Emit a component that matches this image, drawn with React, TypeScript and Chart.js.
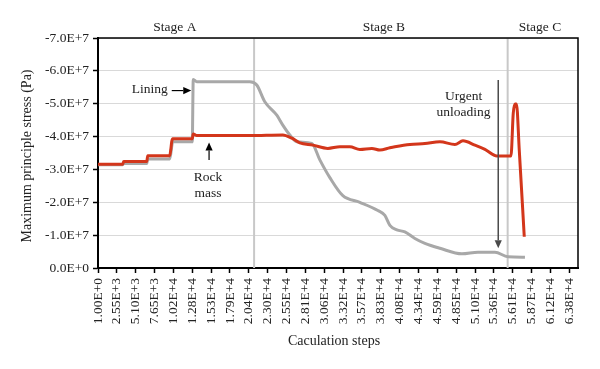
import React, { useEffect, useRef } from 'react';
import { Chart, registerables } from 'chart.js';

Chart.register(...registerables);

// ---- Data (stress in units of 1E+7 Pa, compressive negative) ----
const rockSteps = [1, 3344, 3480, 6593, 6728, 9707, 9842, 9977, 10112, 12751, 12886, 13360, 20533, 24999, 26218, 27301, 29061, 31091, 32716, 34069, 35423, 37047, 38130, 39484, 40160, 42191, 44221, 46251, 48282, 49365, 50989, 52342, 53967, 55455, 55862, 56173, 56403, 56606, 56985, 57662];
const rockStress = [-3.16, -3.16, -3.24, -3.24, -3.42, -3.42, -3.6, -3.85, -3.93, -3.93, -4.08, -4.03, -4.03, -4.05, -3.95, -3.81, -3.74, -3.64, -3.69, -3.69, -3.61, -3.64, -3.59, -3.66, -3.69, -3.76, -3.79, -3.84, -3.76, -3.87, -3.74, -3.61, -3.41, -3.41, -3.41, -4.71, -4.99, -4.99, -3.59, -0.95];

const liningSteps = [1, 3344, 3480, 6593, 6728, 9707, 10112, 12751, 12886, 13360, 20533, 21480, 22563, 24187, 24999, 25947, 26894, 28925, 30008, 31362, 33122, 35423, 37859, 38807, 39484, 40431, 41514, 42868, 44221, 46251, 49229, 51395, 53696, 55455, 57756];
const liningStress = [-3.14, -3.14, -3.18, -3.18, -3.32, -3.32, -3.84, -3.84, -5.74, -5.67, -5.67, -5.57, -5.06, -4.65, -4.35, -4.05, -3.84, -3.79, -3.29, -2.75, -2.2, -2.0, -1.75, -1.6, -1.3, -1.16, -1.1, -0.9, -0.75, -0.6, -0.43, -0.48, -0.48, -0.34, -0.33];

const xTickValues = [1, 2551, 5101, 7651, 10201, 12751, 15301, 17851, 20401, 22951, 25501, 28051, 30601, 33151, 35701, 38251, 40801, 43351, 45901, 48451, 51001, 53551, 56101, 58651, 61201, 63751];
const xTickLabels = ['1.00E+0', '2.55E+3', '5.10E+3', '7.65E+3', '1.02E+4', '1.28E+4', '1.53E+4', '1.79E+4', '2.04E+4', '2.30E+4', '2.55E+4', '2.81E+4', '3.06E+4', '3.32E+4', '3.57E+4', '3.83E+4', '4.08E+4', '4.34E+4', '4.59E+4', '4.85E+4', '5.10E+4', '5.36E+4', '5.61E+4', '5.87E+4', '6.12E+4', '6.38E+4'];
const yTickValues = [-7e7, -6e7, -5e7, -4e7, -3e7, -2e7, -1e7, 0];
const yTickLabels = ['-7.0E+7', '-6.0E+7', '-5.0E+7', '-4.0E+7', '-3.0E+7', '-2.0E+7', '-1.0E+7', '0.0E+0'];

const xMin = 1;
const xMax = 64930;

// stage boundaries (steps)
const stageBoundaries = [21116, 55414];
const stageLabels = ['Stage A', 'Stage B', 'Stage C'];
const stageLabelSteps = [10395, 38670, 59784];
const stageLabelStress = -7.33;

// annotations (step, stress in 1E+7)
const liningText = { text: 'Lining', x: 9435, y: -5.42 };
const liningArrow = { x1: 9976, y1: -5.4, x2: 12616, y2: -5.4 };
const rockText = [{ text: 'Rock', x: 14880, y: -2.77 }, { text: 'mass', x: 14880, y: -2.28 }];
const rockArrow = { x1: 15025, y1: -3.29, x2: 15025, y2: -3.82 };
const urgentText = [{ text: 'Urgent', x: 49450, y: -5.23 }, { text: 'unloading', x: 49450, y: -4.73 }];
const urgentArrow = { x1: 54141, y1: -5.72, x2: 54141, y2: -0.6 };

const FONT = '"Liberation Serif", "Times New Roman", serif';

function drawArrow(ctx: CanvasRenderingContext2D, x1: number, y1: number, x2: number, y2: number, color: string, w: number) {
  const ang = Math.atan2(y2 - y1, x2 - x1);
  const hl = 8, hw = 3.6;
  ctx.save();
  ctx.strokeStyle = color;
  ctx.fillStyle = color;
  ctx.lineWidth = w;
  ctx.beginPath();
  ctx.moveTo(x1, y1);
  ctx.lineTo(x2 - hl * Math.cos(ang), y2 - hl * Math.sin(ang));
  ctx.stroke();
  ctx.beginPath();
  ctx.moveTo(x2, y2);
  ctx.lineTo(x2 - hl * Math.cos(ang) + hw * Math.sin(ang), y2 - hl * Math.sin(ang) - hw * Math.cos(ang));
  ctx.lineTo(x2 - hl * Math.cos(ang) - hw * Math.sin(ang), y2 - hl * Math.sin(ang) + hw * Math.cos(ang));
  ctx.closePath();
  ctx.fill();
  ctx.restore();
}

const annotPlugin = {
  id: 'annot',
  beforeDatasetsDraw(chart: any) {
    const { ctx, chartArea, scales } = chart;
    const xs = scales.x;
    ctx.save();
    ctx.strokeStyle = '#c8c8c8';
    ctx.lineWidth = 2;
    stageBoundaries.forEach((s) => {
      const px = xs.getPixelForValue(s);
      ctx.beginPath();
      ctx.moveTo(px, chartArea.top);
      ctx.lineTo(px, chartArea.bottom);
      ctx.stroke();
    });
    ctx.restore();
  },
  afterDatasetsDraw(chart: any) {
    const { ctx, chartArea, scales } = chart;
    const xs = scales.x;
    const ys = scales.y;
    const X = (v: number) => xs.getPixelForValue(v);
    const Y = (v: number) => ys.getPixelForValue(v * 1e7);

    // top & right border
    ctx.save();
    ctx.strokeStyle = '#000';
    ctx.lineWidth = 1.5;
    ctx.beginPath();
    ctx.moveTo(chartArea.left, chartArea.top);
    ctx.lineTo(chartArea.right, chartArea.top);
    ctx.lineTo(chartArea.right, chartArea.bottom);
    ctx.stroke();
    ctx.restore();

    ctx.save();
    ctx.font = `13.5px ${FONT}`;
    ctx.fillStyle = '#222';
    ctx.textBaseline = 'middle';

    // stage labels
    ctx.textAlign = 'center';
    stageLabels.forEach((t, i) => ctx.fillText(t, X(stageLabelSteps[i]), Y(stageLabelStress)));

    // lining
    ctx.textAlign = 'right';
    ctx.fillText(liningText.text, X(liningText.x), Y(liningText.y));
    ctx.textAlign = 'center';
    rockText.forEach((t) => ctx.fillText(t.text, X(t.x), Y(t.y)));
    urgentText.forEach((t) => ctx.fillText(t.text, X(t.x), Y(t.y)));
    ctx.restore();

    drawArrow(ctx, X(liningArrow.x1), Y(liningArrow.y1), X(liningArrow.x2), Y(liningArrow.y2), '#000', 1.2);
    drawArrow(ctx, X(rockArrow.x1), Y(rockArrow.y1), X(rockArrow.x2), Y(rockArrow.y2), '#000', 1.2);
    drawArrow(ctx, X(urgentArrow.x1), Y(urgentArrow.y1), X(urgentArrow.x2), Y(urgentArrow.y2), '#4a4a4a', 1.5);

    // axis titles
    ctx.save();
    ctx.font = `14px ${FONT}`;
    ctx.fillStyle = '#222';
    ctx.textAlign = 'center';
    ctx.textBaseline = 'middle';
    ctx.fillText('Caculation steps', 334, 341);
    ctx.translate(27.5, 156);
    ctx.rotate(-Math.PI / 2);
    ctx.fillText('Maximum principle stress (Pa)', 0, 0);
    ctx.restore();
  },
};

export default function App() {
  const ref = useRef<HTMLCanvasElement>(null);
  useEffect(() => {
    document.body.style.margin = '0';
    const canvas = ref.current!;
    const chart = new Chart(canvas, {
      type: 'line',
      data: {
        datasets: [
          {
            label: 'Rock mass',
            data: rockSteps.map((s, i) => ({ x: s, y: rockStress[i] * 1e7 })),
            borderColor: '#d3361b',
            borderWidth: 3,
            pointRadius: 0,
            cubicInterpolationMode: 'monotone',
            fill: false,
          },
          {
            label: 'Lining',
            data: liningSteps.map((s, i) => ({ x: s, y: liningStress[i] * 1e7 })),
            borderColor: '#a8a8a8',
            borderWidth: 3,
            pointRadius: 0,
            cubicInterpolationMode: 'monotone',
            fill: false,
          },
        ],
      },
      options: {
        animation: false,
        responsive: false,
        layout: { padding: { top: 38, right: 22, left: 0, bottom: 0 } },
        plugins: { legend: { display: false }, tooltip: { enabled: false } },
        scales: {
          x: {
            type: 'linear',
            min: xMin,
            max: xMax,
            afterBuildTicks: (s: any) => {
              s.ticks = xTickValues.map((v) => ({ value: v }));
            },
            afterFit: (s: any) => {
              s.height = 101;
            },
            ticks: {
              autoSkip: false,
              minRotation: 90,
              maxRotation: 90,
              padding: 5,
              color: '#222',
              font: { family: FONT, size: 13.5 },
              callback: (_v: any, i: number) => xTickLabels[i],
            },
            grid: { drawOnChartArea: false, drawTicks: true, tickLength: 5, tickColor: '#000', tickWidth: 1.5 },
            border: { color: '#000', width: 2 },
          },
          y: {
            type: 'linear',
            min: -7e7,
            max: 0,
            reverse: true,
            afterBuildTicks: (s: any) => {
              s.ticks = yTickValues.map((v) => ({ value: v }));
            },
            afterFit: (s: any) => {
              s.width = 98;
            },
            ticks: {
              padding: 4,
              color: '#222',
              font: { family: FONT, size: 13.5 },
              callback: (_v: any, i: number) => yTickLabels[i],
            },
            grid: { color: '#d9d9d9', lineWidth: 1, tickLength: 5, tickColor: '#000', tickWidth: 1.5 },
            border: { color: '#000', width: 2 },
          },
        },
      },
      plugins: [annotPlugin],
    });
    return () => chart.destroy();
  }, []);
  return <canvas ref={ref} width={600} height={369} style={{ display: 'block', width: 600, height: 369 }} />;
}
